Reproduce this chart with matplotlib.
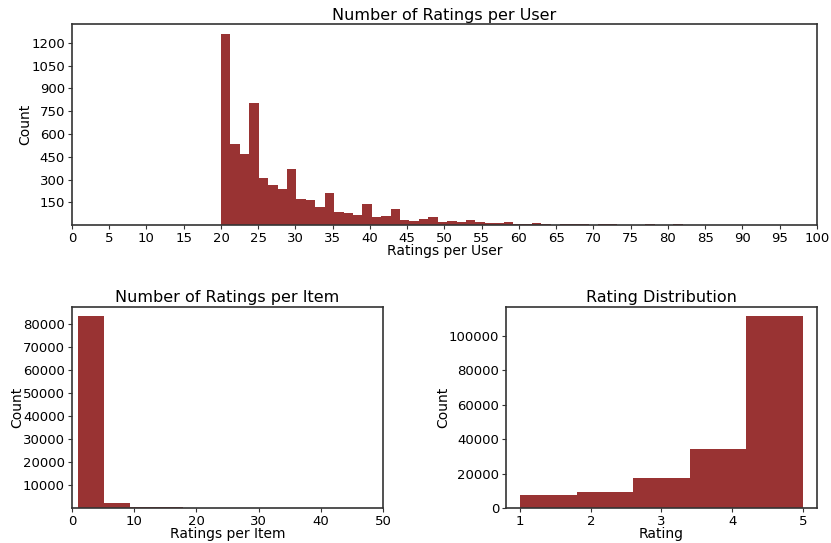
import matplotlib
matplotlib.use("Agg")
import matplotlib.pyplot as plt
import numpy as np

bar_color = "#993333"

# ratings per user: 49 bins from 20 to 82
user_edges = np.linspace(20, 82, 50)
user_counts = [1262, 531, 466, 803, 308, 265, 236, 367, 171, 164,
               118, 210, 85, 79, 66, 140, 52, 59, 105, 34,
               27, 40, 53, 22, 27, 22, 34, 22, 15, 15,
               22, 9, 9, 15, 9, 2, 9, 9, 9, 2,
               9, 9, 2, 2, 2, 9, 2, 2, 9]
user_yticks = [150, 300, 450, 600, 750, 900, 1050, 1200]
user_xticks = list(range(0, 101, 5))

# ratings per item
item_edges = np.linspace(1, 43, 11)
item_counts = [83500, 2300, 450, 400, 120, 80, 50, 30, 20, 10]
item_yticks = [10000, 20000, 30000, 40000, 50000, 60000, 70000, 80000]

# rating distribution
rating_edges = np.linspace(1, 5, 6)
rating_counts = [7700, 9500, 17600, 34400, 111600]

plt.rcParams['font.family'] = ['DejaVu Sans']
fig = plt.figure(figsize=(8.31, 5.43), dpi=100)

def style(ax, title, xlabel):
    for s in ax.spines.values():
        s.set_color("#333333")
        s.set_linewidth(1.2)
    ax.tick_params(labelsize=9.5, color="#333333", length=3, pad=2)
    ax.set_title(title, fontsize=11.5, pad=3)
    ax.set_xlabel(xlabel, fontsize=10, labelpad=-1)
    ax.set_ylabel("Count", fontsize=10, labelpad=-1)

ax0 = fig.add_axes([0.0866, 0.5856, 0.8965, 0.3702])
centers = (user_edges[:-1] + user_edges[1:]) / 2
ax0.hist(centers, bins=user_edges, weights=user_counts, color=bar_color)
ax0.set_xlim(0, 100)
ax0.set_xticks(user_xticks)
ax0.set_yticks(user_yticks)
style(ax0, "Number of Ratings per User", "Ratings per User")

ax1 = fig.add_axes([0.0866, 0.0645, 0.3742, 0.371])
centers = (item_edges[:-1] + item_edges[1:]) / 2
ax1.hist(centers, bins=item_edges, weights=item_counts, color=bar_color)
ax1.set_xlim(0, 50)
ax1.set_yticks(item_yticks)
style(ax1, "Number of Ratings per Item", "Ratings per Item")

ax2 = fig.add_axes([0.6089, 0.0645, 0.3742, 0.371])
centers = (rating_edges[:-1] + rating_edges[1:]) / 2
ax2.hist(centers, bins=rating_edges, weights=rating_counts, color=bar_color)
ax2.set_xticks([1, 2, 3, 4, 5])
style(ax2, "Rating Distribution", "Rating")

fig.savefig("out.png", dpi=100)
